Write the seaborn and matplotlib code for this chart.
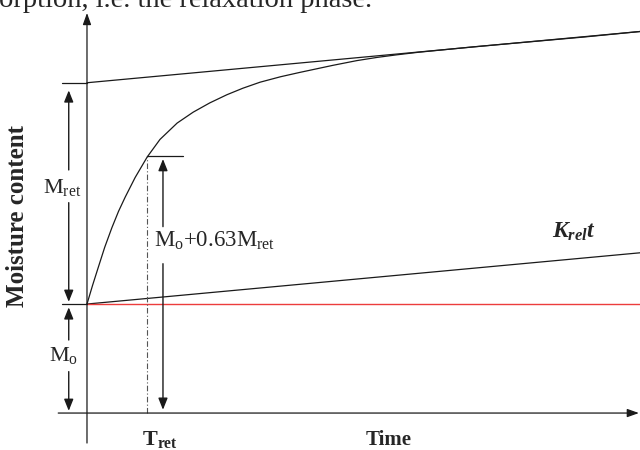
import numpy as np
import pandas as pd
import matplotlib
matplotlib.use("Agg")
import matplotlib.pyplot as plt
import seaborn as sns

# Sorption curve read in time units / moisture units
time = [0.0, 0.1, 0.2, 0.32, 0.45, 0.57, 0.69, 0.87, 1.09, 1.32, 1.63, 1.92,
        2.22, 2.53, 2.82, 3.13, 3.5, 3.85, 4.45, 4.88, 5.24, 5.6, 6.0, 7.0,
        8.0, 9.0, 10.0]
moisture = [1.0, 1.17, 1.33, 1.52, 1.70, 1.85, 1.98, 2.16, 2.35, 2.51, 2.66,
            2.76, 2.845, 2.92, 2.98, 3.035, 3.085, 3.125, 3.19, 3.233, 3.262,
            3.286, 3.310, 3.36, 3.405, 3.45, 3.50]

# Straight reference lines (end points)
line_t = [0.0, 10.0]
relax_line = [1.0, 1.47]      # M0 + K_rel t
upper_line = [3.03, 3.50]     # M0 + M_ret + K_rel t
base_line = [1.0, 1.0]        # M0

M0 = 1.0
M_TOP = 3.03
T_RET = 1.085
M_AT_TRET = 2.36

sns.set_style("white")
plt.rcParams["font.family"] = ["Liberation Serif", "DejaVu Serif"]
plt.rcParams["mathtext.fontset"] = "custom"
plt.rcParams["mathtext.rm"] = "Liberation Serif"
plt.rcParams["mathtext.it"] = "Liberation Serif:italic:bold"
plt.rcParams["mathtext.bf"] = "Liberation Serif:bold"

fig = plt.figure(figsize=(6.4, 4.5), dpi=100)
ax = fig.add_axes([0, 0, 1, 1])
ax.set_xlim(-1.573, 10.0)
ax.set_ylim(-0.339, 3.789)
ax.axis("off")

ink = "#1a1a1a"
lw = 0.9

curve = pd.DataFrame({"t": time, "m": moisture})
sns.lineplot(data=curve, x="t", y="m", ax=ax, color=ink, lw=lw, sort=False)
sns.lineplot(x=line_t, y=upper_line, ax=ax, color=ink, lw=lw)
sns.lineplot(x=line_t, y=relax_line, ax=ax, color=ink, lw=lw)
sns.lineplot(x=line_t, y=base_line, ax=ax, color="#ec3c3c", lw=1.0)

# short ticks left of the moisture axis
ax.plot([-0.45, 0], [M_TOP, M_TOP], color=ink, lw=lw)
ax.plot([-0.45, 0], [M0, M0], color=ink, lw=lw)

# axes with arrow heads
head = dict(arrowstyle="-|>,head_length=0.7,head_width=0.25", color=ink, lw=lw,
            shrinkA=0, shrinkB=0)
ax.annotate("", xy=(0, 3.67), xytext=(0, -0.275), arrowprops=head)
ax.annotate("", xy=(9.98, 0), xytext=(-0.52, 0), arrowprops=head)

# T_ret markers
ax.plot([T_RET, T_RET], [0, M_AT_TRET], color="#555555", lw=0.8,
        linestyle=(0, (5, 2, 1, 2)))
ax.plot([T_RET, 1.74], [M_AT_TRET, M_AT_TRET], color=ink, lw=lw)

arr = dict(arrowstyle="-|>,head_length=0.7,head_width=0.28", color=ink, lw=1.0,
           shrinkA=0, shrinkB=0)
xl = -0.33
ax.annotate("", xy=(xl, M_TOP - 0.07), xytext=(xl, 2.23), arrowprops=arr)
ax.annotate("", xy=(xl, M0 + 0.02), xytext=(xl, 1.93), arrowprops=arr)
ax.annotate("", xy=(xl, M0 - 0.03), xytext=(xl, 0.67), arrowprops=arr)
ax.annotate("", xy=(xl, 0.02), xytext=(xl, 0.38), arrowprops=arr)
xr = 1.374
ax.annotate("", xy=(xr, M_AT_TRET - 0.03), xytext=(xr, 1.71), arrowprops=arr)
ax.annotate("", xy=(xr, 0.03), xytext=(xr, 1.37), arrowprops=arr)

ax.text(-0.45, 2.07, r"$\mathrm{M_{ret}}$", ha="center", va="center", fontsize=16)
ax.text(-0.42, 0.53, r"$\mathrm{M_{o}}$", ha="center", va="center", fontsize=16)
ax.text(1.22, 1.58, r"$\mathrm{M_{o}{+}0.63M_{ret}}$", ha="left", va="center",
        fontsize=16.5)
ax.text(8.8, 1.66, r"$K_{rel}t$", ha="center", va="center", fontsize=17)
ax.text(1.32, -0.24, r"$\mathbf{T_{ret}}$", ha="center", va="center", fontsize=16)
ax.text(5.45, -0.25, "Time", ha="center", va="center", fontsize=15,
        fontweight="bold")

fig.text(18 / 640, 1 - 216 / 450, "Moisture content", rotation=90, ha="center",
         va="center", fontsize=18, fontweight="bold")
fig.text(-1 / 640, 1 - 7 / 450, "orption, i.e. the relaxation phase.",
         ha="left", va="baseline", fontsize=20.5)

fig.savefig("out.png", dpi=100)
